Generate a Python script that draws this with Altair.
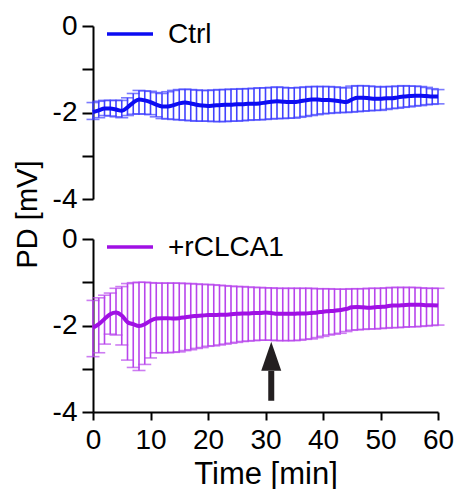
import altair as alt
import pandas as pd

time_min = list(range(61))

ctrl_mean = [-1.99, -1.95, -1.91, -1.91, -1.93, -1.96, -1.88, -1.77, -1.70, -1.72,
             -1.76, -1.82, -1.86, -1.86, -1.83, -1.79, -1.77, -1.79, -1.82, -1.84,
             -1.85, -1.84, -1.83, -1.82, -1.82, -1.81, -1.81, -1.80, -1.80, -1.79,
             -1.77, -1.75, -1.74, -1.75, -1.76, -1.76, -1.74, -1.72, -1.70, -1.70,
             -1.71, -1.71, -1.72, -1.74, -1.76, -1.70, -1.66, -1.66, -1.67, -1.68,
             -1.68, -1.67, -1.67, -1.65, -1.63, -1.62, -1.61, -1.61, -1.62, -1.63,
             -1.63]
ctrl_upper = [-1.77, -1.74, -1.72, -1.72, -1.72, -1.72, -1.66, -1.56, -1.49, -1.50,
              -1.51, -1.54, -1.56, -1.52, -1.49, -1.47, -1.46, -1.47, -1.48, -1.49,
              -1.49, -1.48, -1.47, -1.47, -1.46, -1.46, -1.45, -1.45, -1.44, -1.43,
              -1.43, -1.42, -1.41, -1.42, -1.43, -1.43, -1.42, -1.41, -1.40, -1.40,
              -1.40, -1.40, -1.41, -1.42, -1.43, -1.39, -1.38, -1.38, -1.39, -1.40,
              -1.41, -1.40, -1.40, -1.39, -1.38, -1.39, -1.39, -1.40, -1.42, -1.45,
              -1.47]
ctrl_lower = [-2.16, -2.12, -2.07, -2.08, -2.10, -2.12, -2.07, -2.04, -2.03, -2.04,
              -2.05, -2.10, -2.14, -2.15, -2.16, -2.17, -2.18, -2.19, -2.20, -2.20,
              -2.20, -2.21, -2.21, -2.21, -2.20, -2.20, -2.19, -2.18, -2.17, -2.17,
              -2.16, -2.15, -2.14, -2.14, -2.13, -2.13, -2.11, -2.09, -2.07, -2.05,
              -2.03, -2.02, -2.01, -2.00, -2.00, -1.99, -1.98, -1.97, -1.96, -1.95,
              -1.95, -1.93, -1.91, -1.90, -1.88, -1.87, -1.85, -1.84, -1.82, -1.81,
              -1.80]

rclca_mean = [-2.05, -1.97, -1.85, -1.74, -1.70, -1.77, -1.92, -1.97, -2.01, -1.97,
              -1.89, -1.84, -1.83, -1.83, -1.84, -1.83, -1.81, -1.79, -1.78, -1.77,
              -1.76, -1.76, -1.75, -1.75, -1.74, -1.73, -1.72, -1.72, -1.71, -1.71,
              -1.70, -1.71, -1.73, -1.73, -1.73, -1.73, -1.72, -1.72, -1.71, -1.70,
              -1.68, -1.67, -1.66, -1.64, -1.62, -1.58, -1.57, -1.58, -1.59, -1.58,
              -1.57, -1.56, -1.54, -1.54, -1.53, -1.52, -1.52, -1.52, -1.53, -1.53,
              -1.54]
rclca_upper = [-1.42, -1.36, -1.30, -1.25, -1.14, -1.10, -1.03, -1.01, -1.00, -1.00,
               -1.01, -1.02, -1.02, -1.02, -1.02, -1.02, -1.03, -1.03, -1.04, -1.05,
               -1.05, -1.06, -1.07, -1.08, -1.09, -1.10, -1.10, -1.11, -1.12, -1.12,
               -1.13, -1.13, -1.14, -1.14, -1.14, -1.14, -1.14, -1.14, -1.14, -1.15,
               -1.15, -1.15, -1.16, -1.16, -1.16, -1.15, -1.15, -1.15, -1.14, -1.14,
               -1.14, -1.13, -1.12, -1.12, -1.12, -1.12, -1.12, -1.13, -1.14, -1.14,
               -1.14]
rclca_lower = [-2.72, -2.63, -2.43, -2.20, -2.22, -2.45, -2.80, -2.97, -3.04, -2.90,
               -2.75, -2.63, -2.63, -2.63, -2.62, -2.61, -2.58, -2.56, -2.53, -2.51,
               -2.48, -2.47, -2.45, -2.43, -2.41, -2.39, -2.37, -2.36, -2.35, -2.34,
               -2.34, -2.34, -2.35, -2.35, -2.35, -2.35, -2.34, -2.32, -2.31, -2.28,
               -2.25, -2.22, -2.20, -2.18, -2.14, -2.11, -2.10, -2.09, -2.08, -2.08,
               -2.07, -2.06, -2.05, -2.05, -2.04, -2.03, -2.03, -2.02, -2.01, -2.00,
               -1.99]

series_names = ["Ctrl", "+rCLCA1"]
series_colors = ["#0c0cf2", "#a010e4"]
bar_colors = ["#4242ff", "#b844ec"]

# arrow marking the time point (min) and its extent in mV
arrow_time = [31]
arrow_tail = [-3.74]
arrow_head_base = [-3.05]
arrow_head_center = [-2.71]

FONT = "Liberation Sans"
W, H = 345, 173

x_scale = alt.Scale(domain=[0, 60], nice=False)
y_scale = alt.Scale(domain=[-4, 0], nice=False)
Y_LABELS = "datum.value % 2 == 0 ? '' + datum.value : ''"


def panel(name, mean, upper, lower, color, barcolor, bottom):
    df = pd.DataFrame({"t": time_min, "mean": mean, "upper": upper, "lower": lower})
    if bottom:
        xax = alt.Axis(title="Time [min]", values=list(range(0, 61, 10)), tickSize=8,
                       labelPadding=6, titlePadding=5, labelFlush=False,
                       titleFontSize=31)
    else:
        xax = None
    if not bottom:
        yax = alt.Axis(title="PD [mV]", values=[-4, -3, -2, -1, 0],
                       labelExpr=Y_LABELS,
                       tickSize=11, labelPadding=5, titleX=-66, titleY=188,
                       titleAlign="center", titleBaseline="middle", labelFlush=False)
    else:
        yax = alt.Axis(title=None, values=[-4, -3, -2, -1, 0],
                       labelExpr=Y_LABELS,
                       tickSize=11, labelPadding=5, labelFlush=False)
    base = alt.Chart(df)
    bars = base.mark_rule(color=barcolor, strokeWidth=1.6).encode(
        x=alt.X("t:Q", scale=x_scale, axis=xax),
        y=alt.Y("upper:Q", scale=y_scale, axis=yax),
        y2="lower:Q",
    )
    cap_up = base.mark_tick(color=barcolor, orient="horizontal", size=13, thickness=1.6).encode(
        x="t:Q", y="upper:Q")
    cap_lo = base.mark_tick(color=barcolor, orient="horizontal", size=13, thickness=1.6).encode(
        x="t:Q", y="lower:Q")
    line = base.mark_line(color=color, strokeWidth=4, interpolate="monotone").encode(
        x="t:Q", y="mean:Q")
    leg_line = alt.Chart(pd.DataFrame({"name": [name]})).mark_rule(
        color=color, strokeWidth=3.5).encode(
        x=alt.value(14), x2=alt.value(60), y=alt.value(8))
    leg_text = alt.Chart(pd.DataFrame({"name": [name]})).mark_text(
        align="left", baseline="middle", font=FONT, fontSize=28, color="black").encode(
        x=alt.value(75), y=alt.value(9), text="name:N")
    layers = [bars, cap_up, cap_lo, line, leg_line, leg_text]
    if bottom:
        adf = pd.DataFrame({"t": arrow_time, "tail": arrow_tail, "base": arrow_head_base,
                            "head": arrow_head_center})
        shaft = alt.Chart(adf).mark_rule(color="#231f20", strokeWidth=6).encode(
            x="t:Q", y="tail:Q", y2="base:Q")
        head = alt.Chart(adf).mark_point(
            shape="M0,-1L0.69,1L-0.69,1Z", size=841, filled=True, opacity=1,
            color="#231f20").encode(x="t:Q", y="head:Q")
        layers += [shaft, head]
    return alt.layer(*layers).properties(width=W, height=H)


top = panel(series_names[0], ctrl_mean, ctrl_upper, ctrl_lower, series_colors[0], bar_colors[0], False)
bot = panel(series_names[1], rclca_mean, rclca_upper, rclca_lower, series_colors[1], bar_colors[1], True)

chart = alt.vconcat(top, bot, spacing=40, bounds="flush").properties(
    padding={"left": 5, "top": 4, "right": 0, "bottom": 0}
).configure_view(stroke=None).configure_axis(
    grid=False, domainColor="black", domainWidth=2, tickColor="black", tickWidth=2,
    labelColor="black", labelFont=FONT, labelFontSize=28, titleFont=FONT,
    titleFontSize=29, titleFontWeight="normal", titleColor="black",
)

chart.save("out.html", embed_options={"renderer": "svg", "actions": False})
